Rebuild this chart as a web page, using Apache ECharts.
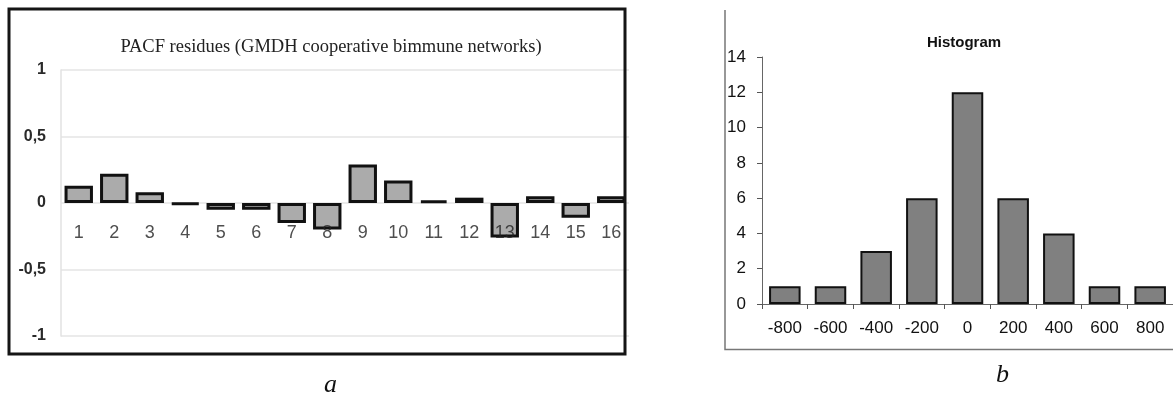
<!DOCTYPE html>
<html>
<head>
<meta charset="utf-8">
<script src="https://cdn.jsdelivr.net/npm/echarts@6/dist/echarts.min.js"></script>
<style>
html,body{margin:0;padding:0;background:#fff;}
#c{width:1173px;height:398px;}
</style>
</head>
<body>
<div id="c"></div>
<script>
// ---- Data ----
var pacfLags = ['1','2','3','4','5','6','7','8','9','10','11','12','13','14','15','16'];
var pacfValues = [0.13, 0.22, 0.08, -0.01, -0.05, -0.05, -0.15, -0.20, 0.29, 0.17, 0.02, 0.04, -0.26, 0.05, -0.11, 0.05];
var pacfTicks = [-1, -0.5, 0, 0.5, 1];

var histBins = ['-800','-600','-400','-200','0','200','400','600','800'];
var histCounts = [1, 1, 3, 6, 12, 6, 4, 1, 1];

var chart = echarts.init(document.getElementById('c'), null, {renderer:'canvas'});

// lag labels sit on the zero line (as in the reference)
var lagLabelPoints = pacfLags.map(function (lag) { return [lag, 0]; });

var option = {
  animation: false,
  backgroundColor: '#ffffff',
  title: [
    {
      text: 'PACF residues (GMDH cooperative bimmune networks)',
      left: 326, top: 33, textAlign: 'center',
      textStyle: {fontFamily: 'Liberation Serif', fontWeight: 'normal', fontSize: 18.5, color: '#222'}
    },
    {
      text: 'Histogram',
      left: 959, top: 30, textAlign: 'center',
      textStyle: {fontFamily: 'Liberation Sans', fontWeight: 'bold', fontSize: 15, color: '#111'}
    }
  ],
  grid: [
    {left: 61, top: 70, width: 568, height: 266, containLabel: false},
    {left: 762, top: 57, width: 417, height: 247, containLabel: false}
  ],
  xAxis: [
    {
      gridIndex: 0, type: 'category', data: pacfLags,
      axisLine: {show: false},
      axisTick: {show: false},
      axisLabel: {show: false},
      splitLine: {show: false}
    },
    {
      gridIndex: 1, type: 'category', data: histBins,
      axisLine: {show: true, lineStyle: {color: '#666', width: 1}},
      axisTick: {show: true, length: 5, lineStyle: {color: '#555'}},
      axisLabel: {margin: 16, fontFamily: 'Liberation Sans', fontSize: 17, color: '#111'},
      splitLine: {show: false}
    }
  ],
  yAxis: [
    {
      gridIndex: 0, type: 'value', min: -1, max: 1, interval: 0.5,
      axisLine: {show: true, lineStyle: {color: '#e2e2e2', width: 1.5}},
      axisTick: {show: false},
      axisLabel: {
        margin: 15, fontFamily: 'Liberation Sans', fontWeight: 'bold', fontSize: 16, color: '#2a2a2a',
        formatter: function (v) {
          if (pacfTicks.indexOf(v) < 0) return '';
          return String(v).replace('.', ',');
        }
      },
      splitLine: {show: true, lineStyle: {color: '#e4e4e4', width: 1.5}}
    },
    {
      gridIndex: 1, type: 'value', min: 0, max: 14, interval: 2,
      axisLine: {show: true, lineStyle: {color: '#666', width: 1}},
      axisTick: {show: true, length: 5, lineStyle: {color: '#555'}},
      axisLabel: {margin: 16, fontFamily: 'Liberation Sans', fontSize: 17, color: '#111'},
      splitLine: {show: false}
    }
  ],
  series: [
    {
      type: 'bar', xAxisIndex: 0, yAxisIndex: 0, data: pacfValues,
      barWidth: '80%',
      itemStyle: {color: '#ababab', borderColor: '#111', borderWidth: 3}
    },
    {
      type: 'scatter', xAxisIndex: 0, yAxisIndex: 0, data: lagLabelPoints,
      symbolSize: 0, z: 10, silent: true,
      label: {
        show: true, position: 'bottom', distance: 21,
        formatter: function (p) { return p.value[0]; },
        fontFamily: 'Liberation Sans', fontSize: 18, color: '#222'
      }
    },
    {
      type: 'bar', xAxisIndex: 1, yAxisIndex: 1, data: histCounts,
      barWidth: '69%',
      itemStyle: {color: '#808080', borderColor: '#111', borderWidth: 2}
    }
  ],
  graphic: [
    {
      type: 'rect', z: 100, silent: true,
      shape: {x: 9, y: 9, width: 616, height: 345},
      style: {fill: 'none', stroke: '#151515', lineWidth: 3}
    },
    {
      type: 'polyline', z: 100, silent: true,
      shape: {points: [[725, 10], [725, 349.5], [1180, 349.5]]},
      style: {fill: 'none', stroke: '#777', lineWidth: 1.5}
    },
    {
      type: 'text', z: 100, left: 324, top: 372,
      style: {text: 'a', font: 'italic 26px "Liberation Serif"', fill: '#111'}
    },
    {
      type: 'text', z: 100, left: 996, top: 362,
      style: {text: 'b', font: 'italic 26px "Liberation Serif"', fill: '#111'}
    }
  ]
};
chart.setOption(option);
</script>
</body>
</html>
